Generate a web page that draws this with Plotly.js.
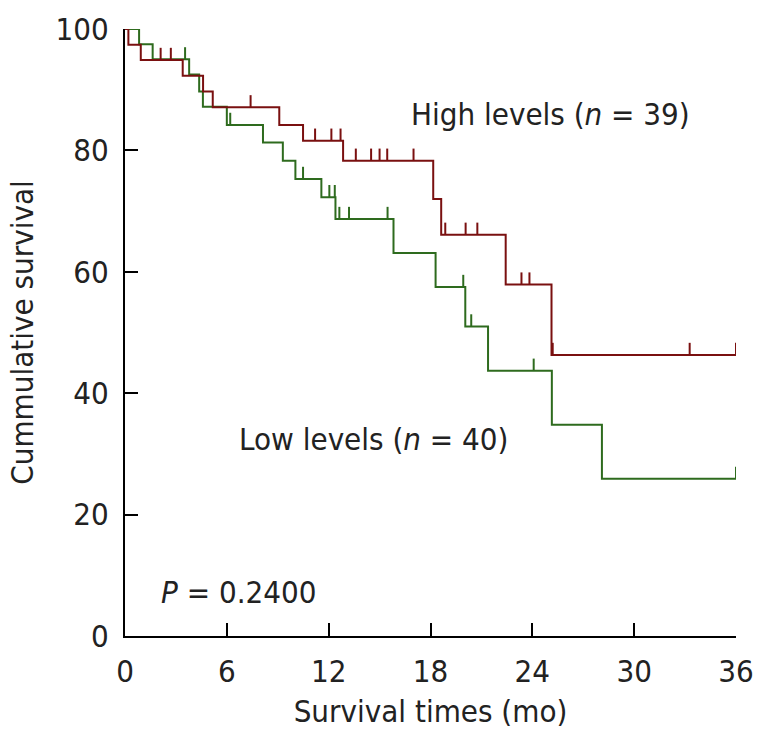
<!DOCTYPE html>
<html>
<head>
<meta charset="utf-8">
<script src="https://cdn.plot.ly/plotly-3.0.1.min.js"></script>
<style>html,body{margin:0;padding:0;background:#fff;}#chart{width:772px;height:748px;}</style>
</head>
<body>
<div id="chart"></div>
<script>
// High levels (n = 39): step times (months) and survival (%) after each step
var highTimes = [0, 0.2, 0.93, 3.4, 4.6, 5.17, 9.09, 10.49, 12.85, 18.16, 18.63, 22.43, 25.13];
var highSurv  = [100, 97.4, 94.9, 92.3, 89.7, 87.1, 84.2, 81.6, 78.3, 72.0, 66.1, 57.9, 46.3];
var highCensor = [2.1, 2.7, 7.4, 11.2, 12.16, 12.7, 13.6, 14.5, 15.0, 15.45, 17.0, 18.87, 20.07, 20.76, 23.36, 23.83, 25.2, 33.27, 36];

// Low levels (n = 40)
var lowTimes = [0, 0.83, 1.63, 3.78, 4.37, 4.59, 6.0, 8.13, 9.3, 10.04, 11.57, 12.4, 15.82, 18.3, 20.05, 21.39, 25.15, 28.1];
var lowSurv  = [100, 97.5, 95.0, 92.5, 89.7, 87.2, 84.2, 81.3, 78.3, 75.3, 72.3, 68.7, 63.1, 57.5, 51.0, 43.7, 34.8, 25.9];
var lowCensor = [3.54, 6.2, 10.49, 12.04, 12.36, 12.63, 13.2, 15.47, 19.93, 20.4, 24.08, 36];

var xTicks = [0, 6, 12, 18, 24, 30, 36];
var yTicks = [0, 20, 40, 60, 80, 100];
var endTime = 36;
var censorHeight = 2;

var RED = '#7a1010', GREEN = '#2e6b1e';
var FONT = 'DejaVu Sans Condensed, DejaVu Sans, sans-serif';
var FS = 31;

function survAt(times, surv, t) {
  var s = surv[0];
  for (var i = 0; i < times.length; i++) { if (times[i] <= t) s = surv[i]; }
  return s;
}
function curve(times, surv, color) {
  return {x: times.concat([endTime]), y: surv.concat([surv[surv.length-1]]),
    mode: 'lines', line: {shape: 'hv', color: color, width: 2}, hoverinfo: 'skip', cliponaxis: false};
}
function ticks(cens, times, surv, color) {
  var x = [], y = [];
  cens.forEach(function(t){ var s = survAt(times, surv, t); x.push(t, t, null); y.push(s, s + censorHeight, null); });
  return {x: x, y: y, mode: 'lines', line: {color: color, width: 2}, hoverinfo: 'skip', cliponaxis: false};
}

var data = [
  curve(lowTimes, lowSurv, GREEN), ticks(lowCensor, lowTimes, lowSurv, GREEN),
  curve(highTimes, highSurv, RED), ticks(highCensor, highTimes, highSurv, RED)
];

var tf = {family: FONT, size: FS, color: '#222'};
var layout = {
  width: 772, height: 748, showlegend: false,
  paper_bgcolor: '#fff', plot_bgcolor: '#fff',
  margin: {l: 125, r: 36, t: 29, b: 112},
  font: tf,
  xaxis: {range: [0, 36], tickvals: xTicks, ticktext: xTicks.map(String), ticks: 'inside', ticklen: 13, tickwidth: 2,
    tickcolor: '#000', showline: true, linecolor: '#000', linewidth: 2, showgrid: false, zeroline: false,
    ticklabelstandoff: 7, tickfont: tf,
    title: {text: 'Survival times (mo)', font: tf, standoff: 12}},
  yaxis: {range: [0, 100], tickvals: yTicks, ticktext: yTicks.map(String), ticks: 'inside', ticklen: 13, tickwidth: 2,
    tickcolor: '#000', showline: true, linecolor: '#000', linewidth: 2, showgrid: false, zeroline: false,
    ticklabelstandoff: 8, tickfont: tf,
    title: {text: 'Cummulative survival', font: tf, standoff: 13}},
  annotations: [
    {x: 16.75, y: 86, xref: 'x', yref: 'y', xanchor: 'left', yanchor: 'middle', showarrow: false,
     text: 'High levels (<i>n</i> = 39)', font: tf},
    {x: 6.6, y: 32.5, xref: 'x', yref: 'y', xanchor: 'left', yanchor: 'middle', showarrow: false,
     text: 'Low levels (<i>n</i> = 40)', font: tf},
    {x: 2.0, y: 7.3, xref: 'x', yref: 'y', xanchor: 'left', yanchor: 'middle', showarrow: false,
     text: '<i>P</i> = 0.2400', font: tf}
  ]
};
Plotly.newPlot('chart', data, layout, {displayModeBar: false, staticPlot: true});
</script>
</body>
</html>
